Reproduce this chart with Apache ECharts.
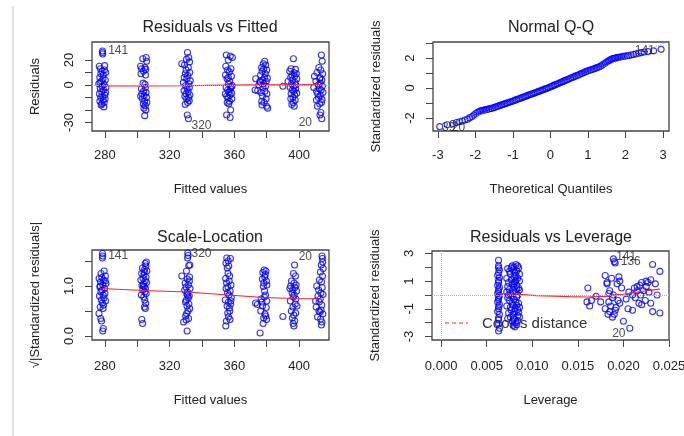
<!DOCTYPE html>
<html>
<head>
<meta charset="utf-8">
<script src="https://cdn.jsdelivr.net/npm/echarts@6/dist/echarts.min.js"></script>
<style>
  html, body { margin: 0; padding: 0; background: #fff; }
  #chart { width: 684px; height: 436px; }
</style>
</head>
<body>
<div id="chart"></div>
<script>
// ---- Residuals vs Fitted: [fitted, residual]
const rvfPoints = [
  [278.5,27.2],[278.5,26.0],[278.6,24.8],[276.5,15],[277.2,13],[279.8,15.5],[278.2,11],[277.5,9],[280.5,10],[279,8],[276.8,6],[278.8,5],[280.2,4],[277.9,3],[276.2,1],[279.4,0.5],[278.3,-1],[280.6,-2],[277.1,-3],[279.1,-4],[278,-5.5],[276.6,-7],[279.9,-8],[278.6,-9],[277.4,-10],[280.1,-11],[278.9,-12],[276.9,-13],[279.5,-14],[278.1,-15],[277.7,-16],[279.3,-17.5],[280.4,-6],[277,2],[279.7,12],
  [303.4,21],[305.5,22],[305.8,19],[302,15],[304.7,14],[302.6,13],[305.2,12.5],[303.8,11],[302.3,9],[305.1,8],[303.6,1.5],[304.8,0.5],[302.5,-3],[303.9,-5],[305.4,-6],[302.8,-7],[304.2,-8.5],[305.7,-10],[303.2,-11],[304.5,-13],[305.9,-14],[303.7,-15],[304.9,-16.5],[304.1,-18.5],[305.3,-20],[304.6,-24.5],[302.1,-9],[305,-2],
  [331,26],[331.8,22],[330.4,20.5],[332.3,18.5],[327.5,17],[329.2,16],[331.5,14],[330.2,12],[332.4,10],[329.7,9],[331.2,7.5],[330.6,5],[332.7,3.5],[328.5,2],[331.9,1],[329.9,-0.5],[332.2,-2],[330.8,-3],[328.9,-4.5],[331.4,-5.5],[330.1,-7],[332.5,-8],[329.4,-9],[331.7,-10],[330.5,-11],[332.1,-12.5],[331.1,-14],[329.6,-15.5],[330.9,-24],[331.6,-27],[329,6],
  [355,24],[357.5,23],[358.8,22],[356.2,20],[354.7,15],[357.9,13],[355.8,12],[356.9,10.5],[354.5,8],[358.2,7],[355.5,5],[357.1,3],[356.4,1],[358.6,-0.5],[354.9,-2],[357.6,-3],[355.9,-4],[356.7,-5.5],[358.3,-6.5],[354.4,-7],[357.3,-8],[355.3,-9],[356.1,-10.5],[358.4,-11],[357,-13],[355.6,-14],[356.6,-15],[357.7,-20],[355.2,-24],[357.4,-26],[356.3,6],[358,-1.5],
  [378.8,19],[377.9,17],[379.4,16],[376.8,14],[378.2,13],[380,12],[377.2,11],[379.1,9],[376.2,8],[378.6,6],[380.4,5.5],[373.2,5],[377.5,4],[379.7,3],[376,2],[378.1,1],[375.2,0],[379.3,-1],[377.7,-2],[372.8,-4],[374.4,-4.5],[378.9,-5],[376.5,-6],[380.1,-7],[377.4,-9],[379.6,-11],[376.9,-13],[378.4,-14],[377.1,-16],[379.9,-17],[380.6,-18.5],[375.8,3],
  [390,-1],
  [396.5,21],[395,13],[397.8,12.5],[394.2,11],[396.9,10],[398.3,9],[395.6,8],[397.2,7],[394.8,6],[398.6,5],[396.1,4],[393.2,3],[397.5,2],[395.3,1],[398,0],[396.6,-1],[394.5,-2],[397.9,-3],[395.8,-4],[396.8,-5],[398.5,-6.5],[395.1,-7],[397.3,-8],[396.2,-10],[394.9,-11],[397.6,-12],[396.4,-14],[395.5,-15.5],[397,-17],
  [413.8,24],[414.3,19],[412.2,14],[413.4,12],[411.1,10],[414.6,9],[409.5,7],[412.8,5],[414.1,4],[410.4,3],[413.1,1.5],[411.8,0],[414.4,-1],[409.1,-2],[412.5,-3],[413.6,-4],[410.8,-5],[414.8,-6],[411.5,-7],[413.2,-8.5],[412,-10],[414.2,-11.5],[410.7,-12],[413.9,-14],[412.7,-15],[411.3,-17],[413.5,-22],[412.9,-24],[414,-27],[413,6]
];
const rvfSmooth = [[278,-0.7],[304,-0.8],[331,-0.6],[343,-0.3],[356,-0.1],[378,0.1],[397,0.1],[414,0.3]];
const rvfLabels = [[282,27.2,'141','left'],[333.5,-32.5,'320','left'],[408,-30.4,'20','right']];

// ---- Normal Q-Q
const qqTheo = [-2.95,-2.75,-2.6,-2.5,-2.42,-2.35,-2.28,-2.21,-2.15,-2.09,-2.04,-1.99,-1.94,-1.9,-1.86,-1.82,-1.78,-1.74,-1.7,-1.66,-1.62,-1.58,-1.54,-1.5,-1.46,-1.42,-1.38,-1.34,-1.3,-1.26,-1.22,-1.18,-1.14,-1.1,-1.06,-1.02,-0.98,-0.94,-0.9,-0.86,-0.82,-0.78,-0.74,-0.7,-0.66,-0.62,-0.58,-0.54,-0.5,-0.46,-0.42,-0.38,-0.34,-0.3,-0.26,-0.22,-0.18,-0.14,-0.1,-0.06,-0.02,0.02,0.06,0.1,0.14,0.18,0.22,0.26,0.3,0.34,0.38,0.42,0.46,0.5,0.54,0.58,0.62,0.66,0.7,0.74,0.78,0.82,0.86,0.9,0.94,0.98,1.02,1.06,1.1,1.14,1.18,1.22,1.26,1.3,1.34,1.38,1.42,1.46,1.5,1.54,1.58,1.62,1.66,1.7,1.74,1.78,1.82,1.86,1.9,1.94,1.99,2.04,2.09,2.15,2.21,2.28,2.35,2.42,2.5,2.6,2.75,2.95];
const qqStd = [-2.58,-2.45,-2.37,-2.3,-2.25,-2.2,-2.14,-2.08,-1.98,-1.9,-1.8,-1.7,-1.62,-1.57,-1.53,-1.5,-1.48,-1.46,-1.44,-1.41,-1.38,-1.36,-1.33,-1.3,-1.26,-1.23,-1.19,-1.16,-1.12,-1.09,-1.06,-1.02,-0.99,-0.95,-0.92,-0.88,-0.85,-0.81,-0.77,-0.73,-0.7,-0.66,-0.62,-0.59,-0.55,-0.51,-0.47,-0.44,-0.4,-0.36,-0.33,-0.29,-0.25,-0.21,-0.18,-0.14,-0.1,-0.06,-0.03,0.01,0.05,0.1,0.14,0.19,0.23,0.27,0.31,0.36,0.4,0.44,0.49,0.53,0.57,0.62,0.66,0.7,0.74,0.79,0.83,0.87,0.92,0.96,1.0,1.05,1.09,1.13,1.17,1.2,1.23,1.26,1.3,1.34,1.38,1.42,1.47,1.53,1.6,1.67,1.73,1.8,1.86,1.92,1.96,1.99,2.01,2.03,2.05,2.07,2.09,2.11,2.13,2.15,2.17,2.2,2.24,2.28,2.32,2.36,2.4,2.43,2.48,2.58];
const qqRef = [[-3.3,-3.15],[3.3,3.25]];
const qqLabels = [[2.78,2.5,'141','right'],[-2.89,-2.62,'39','left'],[-2.63,-2.62,'20','left']];

// ---- Scale-Location: [fitted, sqrt|std resid|]
const slPoints = [
  [278.5,1.65],[278.6,1.6],[278.4,1.56],[279.5,1.3],[277.6,1.25],[280.3,1.2],[278.1,1.17],[276.4,1.15],[279.2,1.12],[277.3,1.08],[280.6,1.05],[278.7,1.02],[276.9,0.98],[279.8,0.95],[278.2,0.92],[277.5,0.88],[280,0.85],[278.9,0.82],[276.6,0.8],[279.4,0.76],[277.8,0.72],[280.4,0.7],[278.4,0.66],[279.1,0.62],[277.1,0.58],[278.8,0.55],[276.3,0.45],[277.4,0.35],[277.9,0.3],[279,0.15],[278.6,0.1],[280.2,1.1],[277,1.0],
  [305.6,1.48],[304.9,1.45],[305.3,1.4],[303.2,1.36],[304.5,1.33],[305.9,1.3],[302.7,1.25],[304.1,1.22],[305.4,1.18],[303.6,1.15],[302.2,1.12],[304.8,1.1],[305.7,1.07],[303.9,1.04],[302.9,1.01],[304.3,0.98],[305.1,0.95],[303.4,0.92],[304.7,0.88],[305.5,0.85],[302.5,0.82],[304,0.78],[304.6,0.72],[305.2,0.65],[304.4,0.58],[305,0.55],[302.8,0.33],[303.3,0.25],[303.8,1.0],[304.2,1.28],
  [331.2,1.66],[331.4,1.61],[331.1,1.56],[332.5,1.42],[331.8,1.41],[330.4,1.3],[327.5,1.2],[332.3,1.18],[330.9,1.14],[329.6,1.06],[331.6,1.02],[330.1,0.98],[332.6,0.95],[329.3,0.92],[331,0.88],[330.6,0.84],[332.1,0.8],[331.5,0.76],[330.3,0.72],[329.8,0.68],[331.9,0.64],[330.7,0.6],[332.4,0.55],[331.3,0.5],[330.5,0.45],[329.9,0.4],[331.7,0.35],[330.2,0.32],[328.6,0.28],[330.8,0.1],[332.2,1.1],[331.1,0.82],
  [355.3,1.56],[356.2,1.5],[354.8,1.46],[357.6,1.55],[356.5,1.4],[355.6,1.36],[357.1,1.2],[354.6,1.15],[356.8,1.1],[355.2,1.06],[357.9,1.02],[356,0.98],[354.9,0.95],[357.4,0.9],[355.8,0.86],[356.7,0.82],[358.1,0.77],[354.4,0.72],[356.3,0.68],[357.7,0.64],[355.5,0.6],[356.9,0.56],[357.2,0.5],[355.9,0.46],[356.4,0.38],[357.3,0.33],[355.1,0.3],[354.7,0.2],[356.1,1.25],[357.8,0.7],
  [378.4,1.32],[379.5,1.3],[377.6,1.27],[379.1,1.23],[378.8,1.18],[377.3,1.14],[379.8,1.1],[378.2,1.06],[380.1,1.02],[377.9,0.99],[379.3,0.82],[378.5,0.78],[376.6,0.74],[380,0.7],[373.1,0.66],[374.2,0.63],[377.4,0.6],[379.7,0.57],[376.3,0.5],[378.9,0.44],[379.4,0.4],[378.1,0.36],[379.9,0.33],[377.8,0.25],[375.9,0.06],[378.7,0.9],[377.1,0.68],
  [390,0.39],
  [397.2,1.42],[396.5,1.25],[397.8,1.2],[395.3,1.1],[396.9,1.06],[398.2,1.02],[394.8,1.0],[397.4,0.97],[396.1,0.93],[398.5,0.9],[395.7,0.86],[397,0.82],[396.4,0.78],[398,0.74],[394.6,0.7],[397.6,0.64],[396.2,0.58],[395.2,0.5],[397.9,0.46],[396.7,0.42],[395.9,0.36],[397.3,0.3],[396.3,0.25],[396.8,0.2],[394.3,0.95],[398.7,0.6],
  [414.2,1.6],[414.4,1.55],[414.6,1.48],[413.7,1.42],[414.9,1.35],[413.2,1.28],[414.5,1.2],[412.6,1.12],[413.9,1.08],[410.9,1.0],[414.3,0.97],[412.1,0.92],[413.5,0.86],[414.8,0.83],[411.7,0.8],[413.1,0.74],[412.4,0.68],[414,0.62],[410.6,0.58],[413.6,0.52],[412.9,0.48],[414.7,0.44],[411.4,0.38],[413.3,0.34],[414.1,0.28],[413.8,0.22],[412.2,0.5],[410.2,0.7]
];
const slSmooth = [[278,0.95],[304,0.91],[331,0.88],[356,0.82],[378,0.77],[397,0.75],[414,0.74]];
const slLabels = [[282,1.61,'141','left'],[333.5,1.64,'320','left'],[408,1.59,'20','right']];

// ---- Residuals vs Leverage: [leverage, std resid]
const levPoints = [
  [0.0063,2.5],[0.0063,2.1],[0.0063,1.95],[0.0064,1.8],[0.0063,1.6],[0.0062,1.4],[0.0064,1.25],[0.0063,1.05],[0.0063,0.9],[0.0062,0.7],[0.0064,0.55],[0.0063,0.4],[0.0063,0.25],[0.0062,0.1],[0.0064,-0.05],[0.0063,-0.2],[0.0063,-0.35],[0.0062,-0.5],[0.0064,-0.7],[0.0063,-0.85],[0.0063,-1.0],[0.0062,-1.2],[0.0064,-1.4],[0.0063,-1.65],[0.0063,-1.8],[0.0063,-2.1],[0.0064,-2.4],[0.0063,-2.6],
  [0.0073,1.9],[0.0075,1.7],[0.0078,2.1],[0.0080,2.0],[0.0082,2.2],[0.0084,2.1],[0.0085,1.95],[0.0072,1.2],[0.0076,1.5],[0.0079,1.8],[0.0081,1.6],[0.0083,1.75],[0.0086,1.5],[0.0074,0.9],[0.0077,1.1],[0.0080,1.3],[0.0082,1.4],[0.0084,1.2],[0.0086,1.0],[0.0073,0.6],[0.0075,0.4],[0.0078,0.8],[0.0081,0.95],[0.0083,0.7],[0.0085,0.5],[0.0072,0.2],[0.0076,0.1],[0.0079,0.3],[0.0080,0.55],[0.0082,0.25],[0.0084,0.0],[0.0086,0.35],[0.0073,-0.2],[0.0075,-0.4],[0.0077,-0.1],[0.0080,-0.3],[0.0082,-0.5],[0.0083,-0.15],[0.0085,-0.6],[0.0072,-0.8],[0.0076,-0.9],[0.0078,-0.6],[0.0081,-1.0],[0.0083,-0.75],[0.0086,-0.9],[0.0074,-1.3],[0.0077,-1.1],[0.0079,-1.4],[0.0081,-1.2],[0.0084,-1.5],[0.0085,-1.25],[0.0073,-1.7],[0.0076,-1.6],[0.0078,-1.9],[0.0080,-1.7],[0.0082,-2.0],[0.0084,-1.85],[0.0079,-2.2],[0.0081,-2.3],[0.0083,-2.15],[0.0077,1.95],[0.0083,0.45],[0.0079,-0.75],[0.0084,-1.05],[0.0080,0.8],[0.0074,0.0],[0.0082,1.05],[0.0086,-1.6],
  [0.0161,0.5],[0.0163,-0.8],[0.0160,-0.5],[0.0165,-0.4],[0.0170,-0.1],[0.0175,-0.5],[0.0180,1.4],[0.0182,0.9],[0.0182,0.8],[0.0180,-1.0],[0.0183,-1.4],[0.0185,-1.2],[0.0187,1.2],[0.0189,2.6],[0.0190,2.4],[0.0191,2.3],[0.0189,0.0],[0.0190,-1.4],[0.0195,1.3],[0.0196,1.0],[0.0198,0.5],[0.0194,-0.4],[0.0196,-0.6],[0.0200,-1.9],[0.0205,-1.0],[0.0207,-2.4],[0.0210,-1.1],[0.0210,0.0],[0.0212,0.5],[0.0215,0.6],[0.0215,0.3],[0.0217,-0.6],[0.0218,0.7],[0.0220,0.9],[0.0220,-0.7],[0.0222,0.3],[0.0225,1.0],[0.0225,0.6],[0.0228,0.2],[0.0230,1.1],[0.0230,-0.6],[0.0232,2.2],[0.0232,-1.2],[0.0235,0.8],[0.0237,0.0],[0.0240,1.7],[0.0240,-1.3],[0.0203,-0.3],[0.0206,0.2],[0.0213,-0.2],[0.0219,0.0],[0.0224,-0.4],[0.0227,0.9],[0.0185,0.3],[0.0188,-0.2],[0.0186,-0.8],[0.0184,-0.5],[0.0192,-0.9],[0.0193,0.8],[0.0184,0.1],[0.0188,-1.6],[0.0191,-1.1]
];
const levSmooth = [[0.0063,0.1],[0.0075,0.08],[0.0085,0.05],[0.0105,-0.05],[0.0125,-0.08],[0.014,-0.12],[0.016,-0.15],[0.018,-0.1],[0.019,0.0],[0.020,0.05],[0.021,0.15],[0.022,0.25],[0.023,0.35],[0.024,0.42]];
const levLabels = [[0.0203,2.74,'141','center'],[0.0208,2.38,'136','center'],[0.0195,-2.8,'20','center']];

// ---- ticks and labels
const fitTicks = [280, 300, 320, 340, 360, 380, 400];
const fitTickLabels = [280, 320, 360, 400];
const rvfYTicks = [-30, -20, -10, 0, 10, 20];
const rvfYLabels = [-30, 0, 20];
const qqXTicks = [-3, -2, -1, 0, 1, 2, 3];
const qqYTicks = [-2, -1, 0, 1, 2, 3];
const qqYLabels = [-2, 0, 2];
const slYTicks = [0, 0.5, 1, 1.5];
const slYLabels = [0, 1];
const levXTicks = [0, 0.005, 0.01, 0.015, 0.02, 0.025];
const levYTicks = [-3, -2, -1, 0, 1, 2, 3];
const levYLabels = [-3, -1, 1, 3];

const font = 'Liberation Sans, Arial, sans-serif'
const ink = '#222'

function xAx (grid, min, max, ticks, labels, name, fmt) {
  return {
    type: 'value', gridIndex: grid, min: min, max: max,
    name: name, nameLocation: 'middle', nameGap: grid > 1 ? 54 : 52,
    nameTextStyle: { fontSize: 13, color: ink, fontFamily: font },
    axisLine: { show: false, onZero: false },
    axisTick: { show: true, length: 7, lineStyle: { color: '#444' }, customValues: ticks },
    axisLabel: { show: true, customValues: labels, fontSize: 13, color: ink, fontFamily: font, margin: grid > 1 ? 20 : 18, formatter: fmt },
    splitLine: { show: false }
  }
}
function yAx (grid, min, max, ticks, labels, name, fmt) {
  const a = xAx(grid, min, max, ticks, labels, name, fmt)
  a.nameGap = 50
  a.axisLabel.rotate = 90
  a.axisLabel.margin = 16
  return a
}

function points (i, data) {
  return {
    type: 'scatter', xAxisIndex: i, yAxisIndex: i, data: data, symbolSize: 6, silent: true,
    itemStyle: { color: 'rgba(0,0,0,0)', borderColor: '#0000ff', borderWidth: 1.1 }
  }
}
function smooth (i, data, zero) {
  const s = {
    type: 'line', xAxisIndex: i, yAxisIndex: i, data: data, showSymbol: false, silent: true,
    lineStyle: { color: '#ff2020', width: 1.2 }, z: 3
  }
  if (zero) {
    s.markLine = {
      silent: true, symbol: 'none', label: { show: false },
      lineStyle: { color: '#b0b0b0', type: 'dotted', width: 1 },
      data: zero
    }
  }
  return s
}
function labels (i, items, size) {
  return {
    type: 'scatter', xAxisIndex: i, yAxisIndex: i, symbolSize: 1, silent: true, z: 4,
    itemStyle: { color: 'rgba(0,0,0,0)' },
    data: items.map(d => ({ value: [d[0], d[1]], name: d[2], label: { align: d[3] } })),
    label: { show: true, position: 'inside', formatter: '{b}', color: ink, fontSize: size || 12, fontFamily: font }
  }
}
function title (x, y, text) {
  return {
    type: 'text', x: x, y: y,
    style: { text: text, fill: ink, font: '16px ' + font, textAlign: 'center', textVerticalAlign: 'middle' }
  }
}

const chart = echarts.init(document.getElementById('chart'), null, { renderer: 'canvas' })
const gridBase = { show: true, borderColor: '#444', borderWidth: 1.3, outerBoundsMode: 'none', containLabel: false }

chart.setOption({
  animation: false,
  grid: [
    Object.assign({ left: 92, top: 42, width: 237, height: 89 }, gridBase),
    Object.assign({ left: 433, top: 42, width: 236, height: 89 }, gridBase),
    Object.assign({ left: 92, top: 250, width: 237, height: 90 }, gridBase),
    Object.assign({ left: 432, top: 251, width: 237, height: 89 }, gridBase)
  ],
  xAxis: [
    xAx(0, 272, 418.5, fitTicks, fitTickLabels, 'Fitted values'),
    xAx(1, -3.13, 3.16, qqXTicks, qqXTicks, 'Theoretical Quantiles'),
    xAx(2, 272, 418.5, fitTicks, fitTickLabels, 'Fitted values'),
    xAx(3, -0.001, 0.025, levXTicks, levXTicks, 'Leverage', v => v.toFixed(3))
  ],
  yAxis: [
    yAx(0, -36.8, 34.4, rvfYTicks, rvfYLabels, 'Residuals'),
    yAx(1, -2.87, 3.07, qqYTicks, qqYLabels, 'Standardized residuals'),
    yAx(2, -0.08, 1.72, slYTicks, slYLabels, '\u221A|Standardized residuals|', v => v.toFixed(1)),
    yAx(3, -3.25, 3.17, levYTicks, levYLabels, 'Standardized residuals')
  ],
  series: [
    smooth(0, rvfSmooth, [{ yAxis: 0 }]),
    points(0, rvfPoints),
    labels(0, rvfLabels),
    {
      type: 'line', xAxisIndex: 1, yAxisIndex: 1, data: qqRef, showSymbol: false, silent: true,
      lineStyle: { color: '#a0a0a0', type: 'dotted', width: 1 }
    },
    points(1, qqTheo.map((t, k) => [t, qqStd[k]])),
    labels(1, qqLabels),
    smooth(2, slSmooth),
    points(2, slPoints),
    labels(2, slLabels),
    smooth(3, levSmooth, [{ yAxis: 0 }, { xAxis: 0 }]),
    points(3, levPoints),
    labels(3, levLabels)
  ],
  graphic: [
    { type: 'line', shape: { x1: 13, y1: 6, x2: 13, y2: 436 }, style: { stroke: '#e2e2e2', lineWidth: 2 } },
    title(210, 28, 'Residuals vs Fitted'),
    title(551, 28, 'Normal Q-Q'),
    title(210, 238, 'Scale-Location'),
    title(551, 238, 'Residuals vs Leverage'),
    { type: 'line', shape: { x1: 445, y1: 323, x2: 468, y2: 323 }, style: { stroke: '#ff2020', lineWidth: 1.2, lineDash: [4, 3] } },
    { type: 'text', x: 482, y: 324, style: { text: "Cook's distance", fill: '#333', font: '15px ' + font, textVerticalAlign: 'middle' } }
  ]
})
</script>
</body>
</html>
